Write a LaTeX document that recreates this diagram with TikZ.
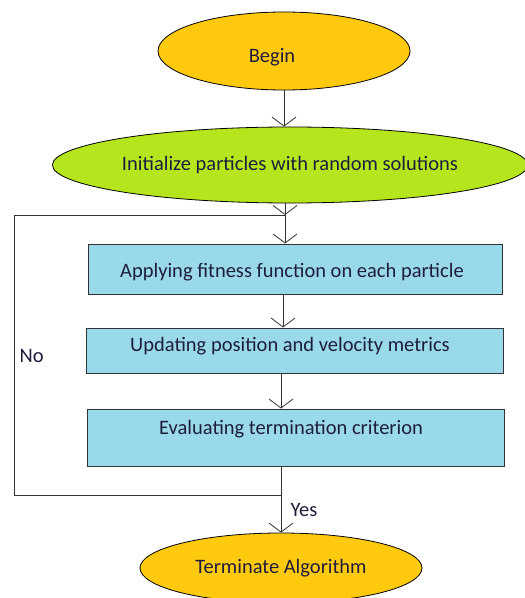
\documentclass[tikz,border=0pt]{standalone}
\usepackage{fontspec}
\setmainfont{Carlito}
\usetikzlibrary{shapes.geometric,arrows.meta}
\definecolor{yorange}{RGB}{255,201,14}
\definecolor{lime}{RGB}{181,230,29}
\definecolor{lblue}{RGB}{153,217,234}
\definecolor{txt}{RGB}{30,30,60}
\begin{document}
\begin{tikzpicture}[x=1bp,y=-1bp,
  every node/.style={font=\fontsize{20.5bp}{24bp}\selectfont, text=txt},
  oval/.style={ellipse, draw=black, line width=0.8bp, inner sep=0pt},
  boxstep/.style={rectangle, draw=black!80, line width=1bp, fill=lblue, inner sep=0pt},
  arr/.style={-{Straight Barb[length=9bp,width=24bp,line width=0.8bp]}},
  conn/.style={draw=black!80, line width=0.9bp}]
\useasboundingbox (0,0) rectangle (525,598);
\node[oval, fill=yorange, minimum width=252bp, minimum height=78bp] (begin) at (284,51) {};
\node (begint) at (272,57) {Begin};
\node[oval, fill=lime, minimum width=470bp, minimum height=76bp] (init) at (290,165) {Initialize particles with random solutions};
\node[boxstep, minimum width=413bp, minimum height=50bp] (b1) at (295.5,269) {};
\node (b1t) at (292,272) {Applying fitness function on each particle};
\node[boxstep, minimum width=416bp, minimum height=45bp] (b2) at (295,350.5) {};
\node (b2t) at (290,346) {Updating position and velocity metrics};
\node[boxstep, minimum width=416bp, minimum height=57bp] (b3) at (296,437.5) {};
\node (b3t) at (291,429) {Evaluating termination criterion};
\node[oval, fill=yorange, minimum width=282bp, minimum height=70bp] (term) at (281,568) {Terminate Algorithm};
\coordinate (jtop) at (285,215);
\coordinate (jbot) at (281,495);
\coordinate (lt) at (14,215);
\coordinate (lb) at (14,495);
\node[anchor=west] (no) at (16,356) {No};
\node[anchor=west] (yes) at (287,510) {Yes};
\draw[conn,arr] (begin.south) -- (begin.south |- init.north);
\draw[conn,arr] (init.south -| jtop) -- (jtop);
\draw[conn,arr] (jtop) -- (jtop |- b1.north);
\draw[conn,arr] (b1.south -| 283,0) -- (283,0 |- b2.north);
\draw[conn,arr] (b2.south -| 281,0) -- (281,0 |- b3.north);
\draw[conn] (b3.south -| jbot) -- (jbot) -- (lb) -- (lt) -- (jtop);
\draw[conn,arr] (jbot) -- (jbot |- term.north);
\end{tikzpicture}
\end{document}
